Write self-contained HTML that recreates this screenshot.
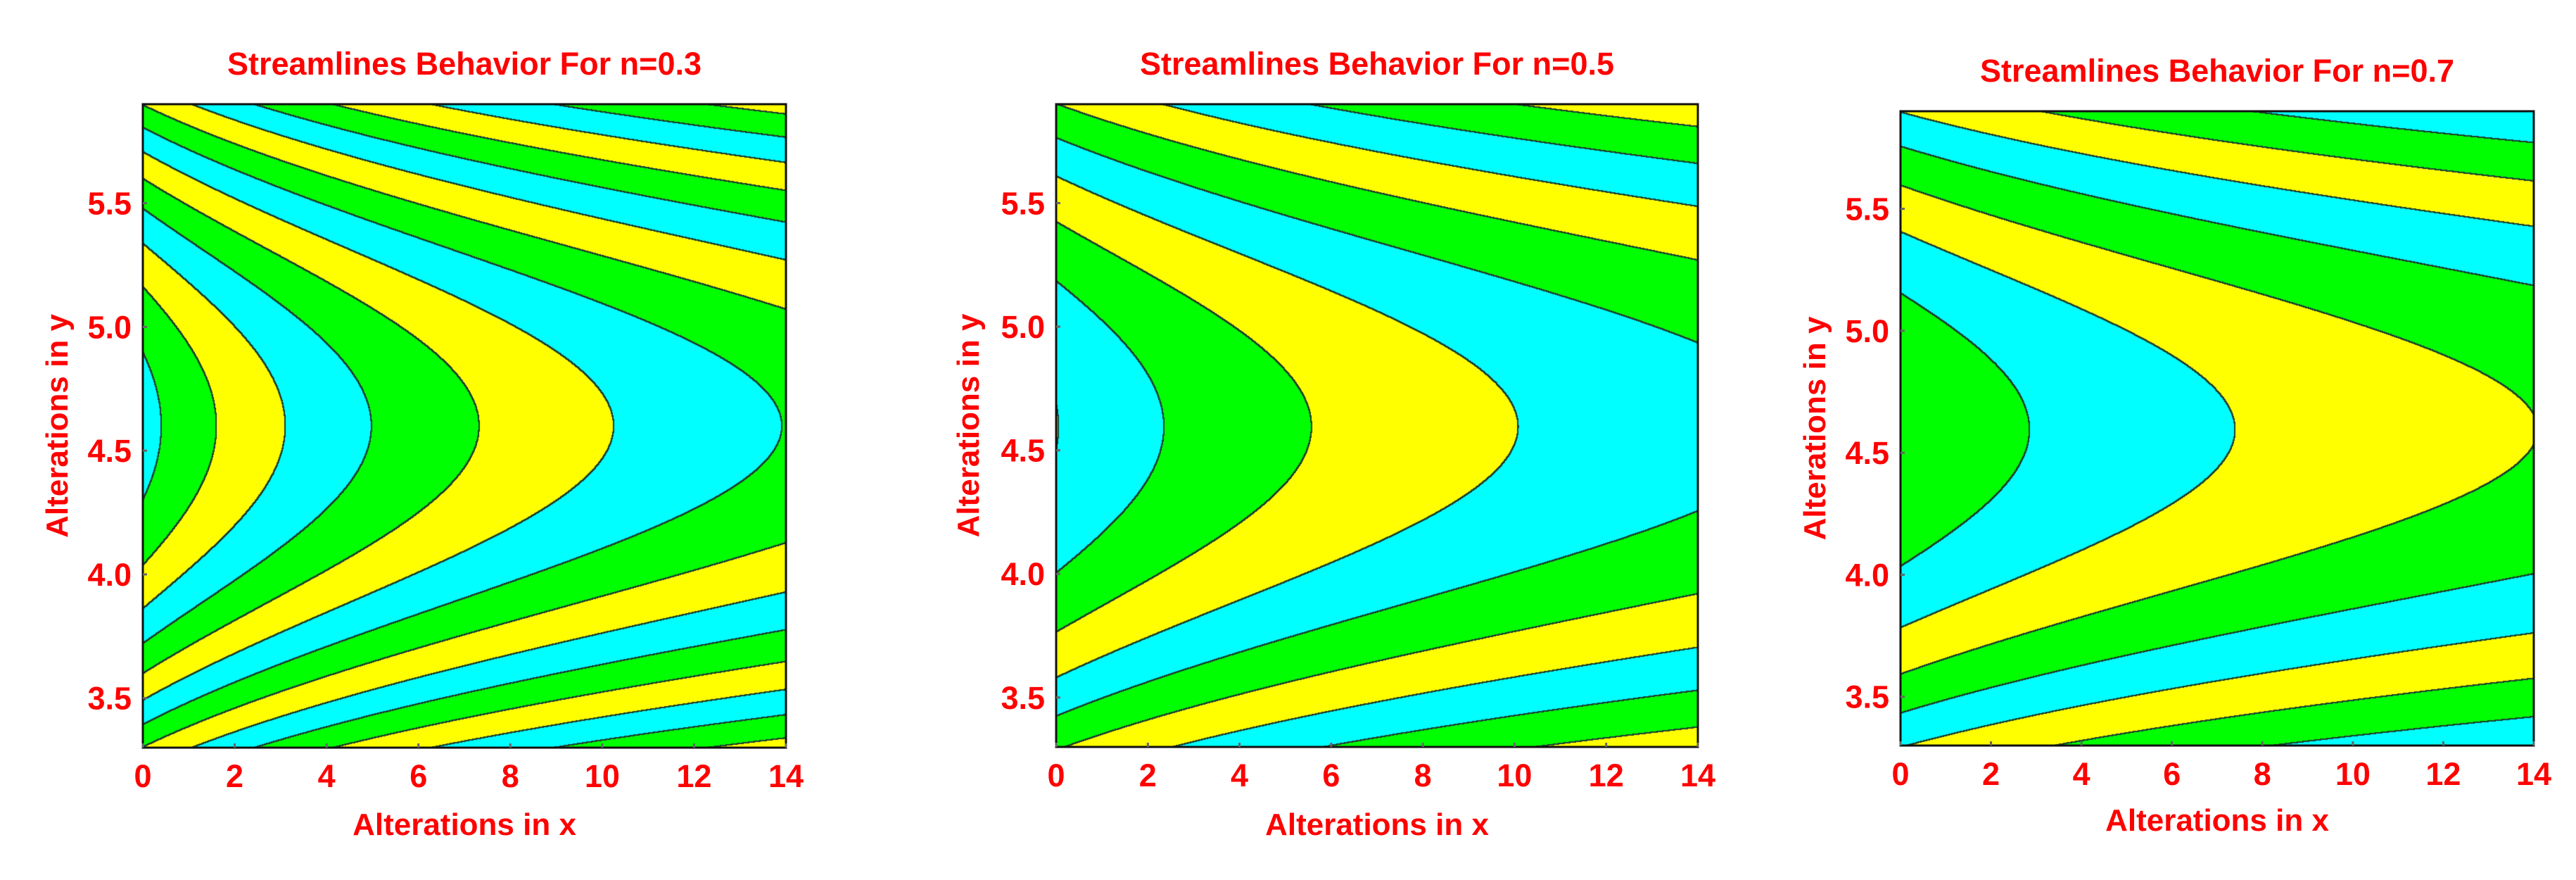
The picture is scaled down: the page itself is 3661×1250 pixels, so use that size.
<!DOCTYPE html>
<html><head><meta charset="utf-8">
<style>
html,body{margin:0;padding:0;background:#fff;}
#root{position:relative;width:3661px;height:1250px;overflow:hidden;background:#fff;font-family:"Liberation Sans",sans-serif;}
canvas{position:absolute;}
svg{position:absolute;left:0;top:0;}
text{font-family:"Liberation Sans",sans-serif;font-weight:bold;fill:#ff0000;}
</style></head>
<body>
<div id="root">
<svg id="ov" width="3661" height="1250"></svg>
</div>
<script>
// ---- data ----
const panelTitles = ["Streamlines Behavior For n=0.3","Streamlines Behavior For n=0.5","Streamlines Behavior For n=0.7"];
const firstVertexX = [0.4, 0.05, 2.85];     // x of innermost contour vertex
const vertexRatio = [1.25, 1.40, 1.472];    // growth ratio of successive vertex offsets
const xOffsetB = [4.4, 5.7, 6.78];          // offset b in log(x+b)
const curvatureA = [0.98, 0.99, 1.12];      // y-curvature
const centerY = [4.6, 4.595, 4.595];        // symmetry line
const colorOrders = [["#00ffff","#00ff00","#ffff00"],["#ffff00","#00ffff","#00ff00"],["#00ff00","#00ffff","#ffff00"]];
const xTicks = [0,2,4,6,8,10,12,14];
const yTicks = [3.5,4.0,4.5,5.0,5.5];
const xDomain = [0,14];
const yDomain = [3.3,5.9];
// layout
const boxes = [[203,148,1117,1062],[1501,148,2413,1061],[2701,158,3601,1059]];
const titleY = [106,106,116];
const xTitleY = [1186,1186,1180];
const yTitleX = [96,1391,2594];

const NS="http://www.w3.org/2000/svg";
const ov=document.getElementById('ov');
const root=document.getElementById('root');
function mk(tag,attrs,parent){const e=document.createElementNS(NS,tag);for(const k in attrs)e.setAttribute(k,attrs[k]);(parent||ov).appendChild(e);return e;}

for(let p=0;p<3;p++){
  const [L,T,R,B]=boxes[p];
  const W=R-L,H=B-T;
  const xScale=v=>L+(v-xDomain[0])/(xDomain[1]-xDomain[0])*W;
  const yScale=v=>B-(v-yDomain[0])/(yDomain[1]-yDomain[0])*H;
  const xInv=px=>xDomain[0]+(px-L)/W*(xDomain[1]-xDomain[0]);
  const yInv=py=>yDomain[0]+(B-py)/H*(yDomain[1]-yDomain[0]);
  const b=xOffsetB[p],A=curvatureA[p],y0=centerY[p];
  const L0=Math.log(firstVertexX[p]+b), D=Math.log(vertexRatio[p]);
  const cols=colorOrders[p];
  const cv=document.createElement('canvas');
  cv.width=W;cv.height=H;cv.style.left=L+'px';cv.style.top=T+'px';
  
  
  root.insertBefore(cv,ov);
  const ctx=cv.getContext('2d');
  const band=new Int16Array(W*H);
  for(let j=0;j<H;j++){const yy=yInv(T+j+0.5);const dd=yy-y0;
    for(let i=0;i<W;i++){const xx=xInv(L+i+0.5);
      const f=Math.log(xx+b)+A*dd*dd;
      band[j*W+i]=f<L0?0:Math.floor((f-L0)/D)+1;}}
  const img=ctx.createImageData(W,H);const d=img.data;
  const hex=c=>[parseInt(c.substr(1,2),16),parseInt(c.substr(3,2),16),parseInt(c.substr(5,2),16)];
  const rgb=cols.map(hex);
  for(let j=0;j<H;j++)for(let i=0;i<W;i++){
    const k=j*W+i,bd=band[k];
    let line=false;
    for(let dj=-1;dj<=1&&!line;dj++)for(let di=-1;di<=1;di++){
      const ii=i+di,jj=j+dj;
      if(ii<0||jj<0||ii>=W||jj>=H)continue;
      if(band[jj*W+ii]!==bd){line=true;break;}
    }
    const c=line?[28,64,48]:rgb[((bd%3)+3)%3];
    d[k*4]=c[0];d[k*4+1]=c[1];d[k*4+2]=c[2];d[k*4+3]=255;}
  ctx.putImageData(img,0,0);
  // frame
  const fr=mk('rect',{x:L,y:T,width:W,height:H,fill:'none',stroke:'#111',"stroke-width":3});
  
  
  // title
  const t=mk('text',{x:(L+R)/2,y:titleY[p],"text-anchor":"middle","font-size":45});
  t.textContent=panelTitles[p];
  
  
  // x ticks
  xTicks.forEach(v=>{
    const x=xScale(v);
    const tk=mk('line',{x1:x,x2:x,y1:B,y2:B-6,stroke:'#666',"stroke-width":3});
    
    
    const lb=mk('text',{x:x,y:B+56,"text-anchor":"middle","font-size":45});
    lb.textContent=String(v);
    
    
  });
  yTicks.forEach(v=>{
    const y=yScale(v);
    const tk=mk('line',{x1:L,x2:L+6,y1:y,y2:y,stroke:'#666',"stroke-width":3});
    
    
    const lb=mk('text',{x:L-16,y:y+16,"text-anchor":"end","font-size":45});
    lb.textContent=v.toFixed(1);
    
    
  });
  const xt=mk('text',{x:(L+R)/2,y:xTitleY[p],"text-anchor":"middle","font-size":44});
  xt.textContent="Alterations in x";
  
  
  const cy=(T+B)/2;
  const yt=mk('text',{x:yTitleX[p],y:cy,"text-anchor":"middle","font-size":44,transform:`rotate(-90 ${yTitleX[p]} ${cy})`});
  yt.textContent="Alterations in y";
  
  
}
</script>
</body></html>
